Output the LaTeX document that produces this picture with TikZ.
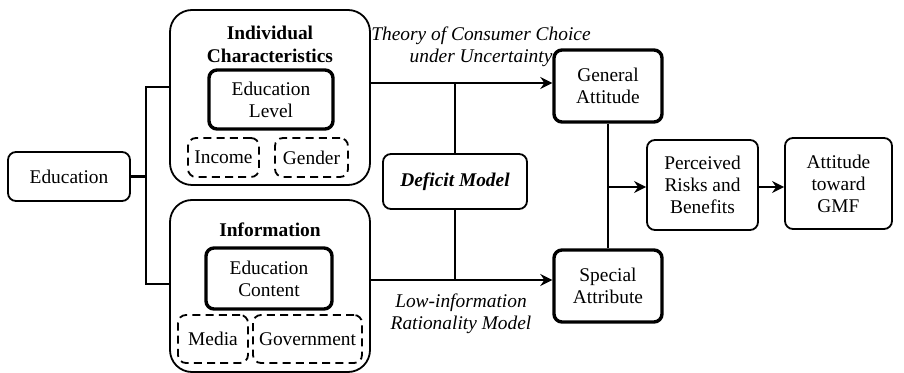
\documentclass[tikz,border=0pt]{standalone}
\usepackage{amsmath, amssymb}
\usepackage{tikz}
\usepackage{fontspec}
\setmainfont{Liberation Serif}
\newfontfamily\timesfont{Liberation Serif}
\usetikzlibrary{arrows.meta}

\begin{document}
\begin{tikzpicture}[x=0.5pt, y=-0.5pt,
		every node/.style={font=\timesfont\fontsize{9.7}{11}\selectfont, align=center},
		box/.style={draw=black, rounded corners=4pt, line width=0.9pt, inner sep=0pt},
		thickbox/.style={box, line width=1.7pt},
		dashbox/.style={box, dash pattern=on 4pt off 2.6pt},
		group/.style={draw=black, rounded corners=11pt, line width=0.9pt},
		link/.style={black, line width=1.3pt},
		flow/.style={link, -{Stealth[length=6pt, width=6pt, inset=2pt]}},
		theory/.style={font=\timesfont\fontsize{9.7}{11}\selectfont\itshape}]
	\useasboundingbox (0,0) rectangle (904,373);
		% the two groups
		\draw[group] (170,10) rectangle (370,185);
		\draw[group] (170,200) rectangle (370,372);
		\node[font=\timesfont\fontsize{9.7}{11.5}\selectfont\bfseries] (ictitle) at (270,44) {Individual\\Characteristics};
		\node[font=\timesfont\fontsize{9.7}{11}\selectfont\bfseries] (inftitle) at (270,230) {Information};
		\node[thickbox, minimum width=62pt, minimum height=29.5pt] (level) at (271,99.5) {Education\\Level};
		\node[dashbox, minimum width=35.5pt, minimum height=19.5pt] (income) at (223.5,157.5) {Income};
		\node[dashbox, minimum width=36.5pt, minimum height=19.5pt] (gender) at (311.5,157.5) {Gender};
		\node[thickbox, minimum width=63pt, minimum height=30.5pt] (content) at (269,278.5) {Education\\Content};
		\node[dashbox, minimum width=35pt, minimum height=24pt] (media) at (213,339) {Media};
		\node[dashbox, minimum width=54.5pt, minimum height=24pt] (gov) at (307.5,339) {Government};
		\coordinate (ic) at (370,83);
		\coordinate (inf) at (370,280);
		% boxes along the chain
		\node[box, minimum width=61pt, minimum height=24.5pt] (edu) at (69,176.5) {Education};
		\node[box, minimum width=72pt, minimum height=27.5pt, font=\timesfont\fontsize{9.7}{11}\selectfont\bfseries\itshape] (deficit) at (455,181.5) {Deficit Model};
		\node[thickbox, minimum width=54pt, minimum height=36pt] (general) at (608,86) {General\\Attitude};
		\node[thickbox, minimum width=54pt, minimum height=36pt] (special) at (608,286) {Special\\Attribute};
		\node[box, minimum width=55.5pt, minimum height=45pt] (risk) at (702.5,185) {Perceived\\Risks and\\Benefits};
		\node[box, minimum width=53.5pt, minimum height=45.5pt] (gmf) at (838.5,183.5) {Attitude\\toward\\GMF};
		\node[theory] (consumer) at (481,47) {Theory of Consumer Choice\\under Uncertainty};
		\node[theory] (lowinfo) at (461,314) {Low-information\\Rationality Model};
		% bracket from Education
		\coordinate (jt) at (146,87);
		\coordinate (jb) at (146,284);
		\draw[link] (edu.east) -- (edu.east -| jt);
		\draw[link] (jt -| 170,0) -- (jt) -- (jb) -- (jb -| 170,0);
		% the two models and the deficit model
		\coordinate (up) at (455,83);
		\coordinate (lo) at (455,280);
		\draw[flow] (ic) -- (up -| general.west);
		\draw[flow] (inf) -- (lo -| special.west);
		\draw[link] (up) -- (deficit.north);
		\draw[link] (deficit.south) -- (lo);
		% attitudes to perceived risks
		\coordinate (mid) at (608,187);
		\draw[link] (general.south) -- (special.north);
		\draw[flow] (mid) -- (mid -| risk.west);
		\draw[flow] (mid -| risk.east) -- (mid -| gmf.west);
		%\draw[link] (edu.south) -- (edu.south |- 0,373);
	\end{tikzpicture}
\end{document}
